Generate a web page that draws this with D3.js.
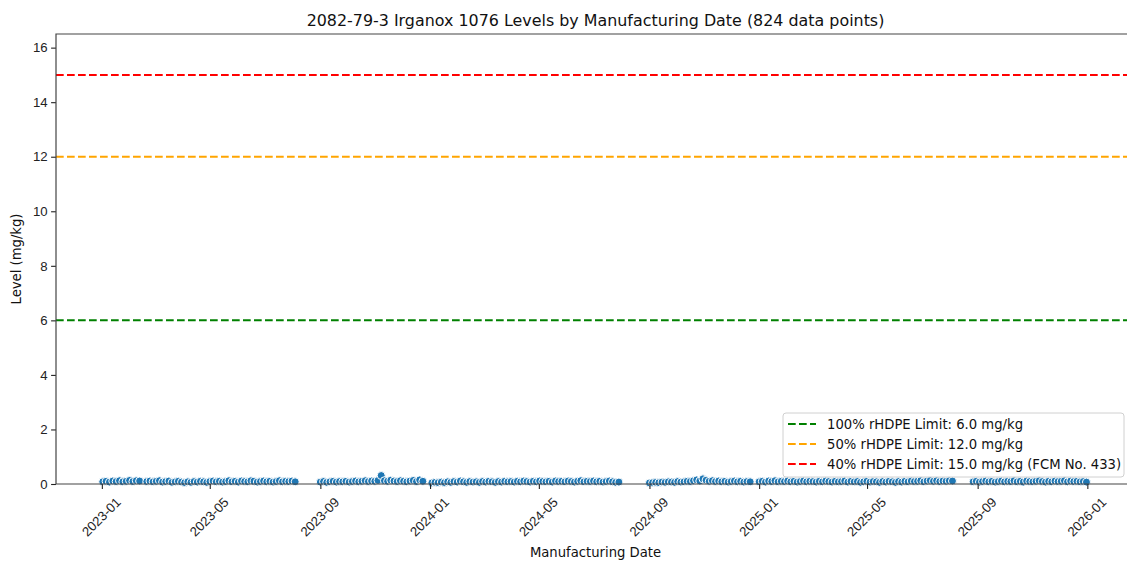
<!DOCTYPE html>
<html>
  <head>
    <style>
      body { margin: 0; background: #fff; }
      svg { font-family: 'DejaVu Sans', sans-serif; overflow: hidden; }
      .limit { fill: none; stroke-width: 2px; stroke-dasharray: 7.7 3.3; }
      .spine { stroke: #444; stroke-width: 1.2px; fill: none; }
    </style>
    <script src="https://d3js.org/d3.v7.min.js"></script>
  </head>
  <body>
    <svg class="chart"></svg>

    <script>
      // production runs: first and last sampling date of each run
      const runStarts = ['2023-01-02', '2023-02-20', '2023-09-01', '2024-01-03', '2024-09-01', '2025-01-01', '2025-08-27'];
      const runEnds   = ['2023-02-12', '2023-08-04', '2023-12-24', '2024-07-29', '2024-12-22', '2025-08-04', '2025-12-31'];

      // measured levels (mg/kg), evenly spaced through each run
      const runLevels = [
        [0.08,0.10,0.07,0.11,0.09,0.12,0.08,0.10,0.13,0.09,0.12,0.11],
        [0.09,0.11,0.08,0.10,0.12,0.07,0.09,0.11,0.06,0.08,0.10,0.07,
         0.05,0.08,0.06,0.09,0.07,0.10,0.08,0.06,0.09,0.11,0.08,0.10,
         0.07,0.09,0.12,0.08,0.10,0.07,0.11,0.09,0.08,0.12,0.10,0.07,
         0.09,0.11,0.08,0.10,0.07,0.09,0.12,0.08,0.10,0.09,0.11,0.08],
        [0.07,0.09,0.06,0.08,0.10,0.07,0.09,0.08,0.10,0.07,0.09,0.11,
         0.08,0.10,0.12,0.09,0.11,0.10,0.13,0.31,0.12,0.10,0.14,0.11,
         0.09,0.12,0.10,0.08,0.11,0.13,0.09,0.15,0.10],
        [0.04,0.06,0.05,0.07,0.05,0.08,0.06,0.09,0.07,0.11,0.08,0.06,
         0.09,0.07,0.08,0.06,0.09,0.07,0.10,0.08,0.06,0.09,0.07,0.10,
         0.08,0.09,0.07,0.10,0.08,0.11,0.09,0.07,0.10,0.08,0.11,0.09,
         0.08,0.10,0.07,0.11,0.09,0.10,0.08,0.11,0.09,0.07,0.10,0.12,
         0.08,0.10,0.09,0.11,0.08,0.10,0.07,0.09,0.11,0.08,0.06,0.07],
        [0.04,0.05,0.06,0.05,0.07,0.06,0.08,0.07,0.06,0.09,0.07,0.08,
         0.10,0.09,0.12,0.15,0.11,0.19,0.14,0.10,0.12,0.09,0.11,0.08,
         0.10,0.07,0.09,0.11,0.08,0.10,0.07,0.09,0.08],
        [0.08,0.10,0.07,0.11,0.09,0.12,0.08,0.10,0.09,0.11,0.08,0.10,
         0.07,0.09,0.11,0.08,0.10,0.09,0.07,0.10,0.08,0.11,0.09,0.07,
         0.10,0.08,0.09,0.11,0.07,0.10,0.08,0.09,0.06,0.08,0.10,0.07,
         0.09,0.08,0.06,0.09,0.07,0.10,0.08,0.06,0.09,0.07,0.10,0.08,
         0.11,0.09,0.10,0.12,0.08,0.11,0.13,0.10,0.12,0.09,0.11,0.10,0.12,0.11],
        [0.08,0.10,0.07,0.09,0.11,0.08,0.10,0.07,0.09,0.11,0.08,0.10,
         0.09,0.12,0.08,0.10,0.07,0.11,0.09,0.08,0.10,0.12,0.09,0.07,
         0.10,0.08,0.11,0.09,0.10,0.12,0.08,0.11,0.09,0.10,0.08,0.09,0.07]
      ];

      const limitValues = [6.0, 12.0, 15.0];
      const limitColors = ['green', 'orange', 'red'];
      const limitLabels = [
        '100% rHDPE Limit: 6.0 mg/kg',
        '50% rHDPE Limit: 12.0 mg/kg',
        '40% rHDPE Limit: 15.0 mg/kg (FCM No. 433)'
      ];
      const yTicks = [0, 2, 4, 6, 8, 10, 12, 14, 16];
      const xTickLabels = ['2023-01', '2023-05', '2023-09', '2024-01', '2024-05', '2024-09', '2025-01', '2025-05', '2025-09', '2026-01'];

      const parse = d3.utcParse('%Y-%m-%d');
      const parseMonth = d3.utcParse('%Y-%m');
      const data = [];
      runLevels.forEach((levels, r) => {
        const t0 = parse(runStarts[r]).getTime();
        const t1 = parse(runEnds[r]).getTime();
        const step = (t1 - t0) / (levels.length - 1);
        levels.forEach((v, i) => data.push({ date: new Date(t0 + i * step), level: v }));
      });

      const width = 1127;
      const height = 562;
      const margin = { top: 34, left: 56, bottom: 78 };
      const plotRight = 1135;
      const fs = '13.2px';

      const svg = d3.select('svg')
        .attr('width', width)
        .attr('height', height);

      const xScale = d3.scaleUtc()
        .domain([parse('2022-11-11'), parse('2026-02-23')])
        .range([margin.left, plotRight]);
      const yScale = d3.scaleLinear()
        .domain([0, 16.5])
        .range([height - margin.bottom, margin.top]);

      // limit lines
      svg.selectAll('line.limit')
        .data(limitValues)
        .join('line')
        .attr('class', 'limit')
        .attr('x1', margin.left).attr('x2', plotRight)
        .attr('y1', d => yScale(d)).attr('y2', d => yScale(d))
        .attr('stroke', (d, i) => limitColors[i]);

      // points
      svg.append('g')
        .selectAll('circle')
        .data(data)
        .join('circle')
        .attr('cx', d => xScale(d.date))
        .attr('cy', d => yScale(d.level))
        .attr('r', 4)
        .attr('fill', '#1f77b4')
        .attr('stroke', '#fff')
        .attr('stroke-width', 1);

      // axes
      const xAxis = svg.append('g')
        .attr('transform', `translate(0,${height - margin.bottom})`)
        .call(d3.axisBottom(xScale)
          .tickValues(xTickLabels.map(parseMonth))
          .tickFormat(d3.utcFormat('%Y-%m'))
          .tickSize(4.9).tickPadding(0));
      xAxis.select('.domain').remove();
      xAxis.selectAll('.tick line').attr('stroke', '#222').attr('stroke-width', 1.1);
      xAxis.selectAll('.tick text')
        .attr('font-size', fs).attr('fill', '#222')
        .attr('text-anchor', 'middle')
        .attr('dominant-baseline', 'central')
        .attr('dy', null)
        .attr('y', 0)
        .attr('transform', 'translate(-1,33) rotate(-45)');

      const yAxis = svg.append('g')
        .attr('transform', `translate(${margin.left},0)`)
        .call(d3.axisLeft(yScale).tickValues(yTicks).tickSize(4.9).tickPadding(3.5));
      yAxis.select('.domain').remove();
      yAxis.selectAll('.tick line').attr('stroke', '#222').attr('stroke-width', 1.1);
      yAxis.selectAll('.tick text').attr('font-size', fs).attr('fill', '#222');

      // spines: left, top, bottom
      svg.append('path')
        .attr('class', 'spine')
        .attr('d', `M${plotRight},${yScale(0)}H${margin.left}V${margin.top}H${plotRight}`);

      // title and labels
      svg.append('text')
        .attr('x', (margin.left + plotRight) / 2).attr('y', 26)
        .attr('text-anchor', 'middle').attr('font-size', '15.9px').attr('fill', '#111')
        .text('2082-79-3 Irganox 1076 Levels by Manufacturing Date (824 data points)');
      svg.append('text')
        .attr('x', (margin.left + plotRight) / 2).attr('y', 557)
        .attr('text-anchor', 'middle').attr('font-size', fs).attr('fill', '#111')
        .text('Manufacturing Date');
      svg.append('text')
        .attr('transform', `translate(21,${(margin.top + yScale(0)) / 2}) rotate(-90)`)
        .attr('text-anchor', 'middle').attr('font-size', fs).attr('fill', '#111')
        .text('Level (mg/kg)');

      // legend
      const legend = svg.append('g').attr('transform', 'translate(783,413)');
      legend.append('rect')
        .attr('width', 341).attr('height', 64).attr('rx', 3)
        .attr('fill', '#fff').attr('fill-opacity', 0.8)
        .attr('stroke', '#d0d0d0').attr('stroke-width', 1);
      limitLabels.forEach((label, i) => {
        const y = 11 + i * 20;
        legend.append('line')
          .attr('class', 'limit')
          .attr('x1', 5).attr('x2', 33).attr('y1', y).attr('y2', y)
          .attr('stroke', limitColors[i]);
        legend.append('text')
          .attr('x', 44).attr('y', y)
          .attr('dominant-baseline', 'central')
          .attr('font-size', fs).attr('fill', '#111')
          .text(label);
      });
    </script>
  </body>
</html>
